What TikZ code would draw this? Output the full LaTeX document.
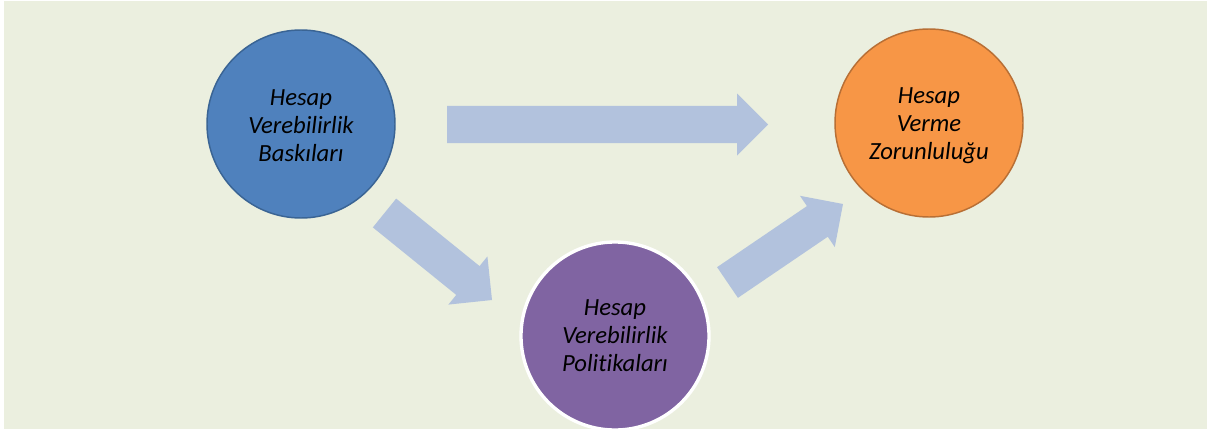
\documentclass[tikz,border=0pt]{standalone}
\usepackage{fontspec}
\setmainfont{Carlito}[Ligatures=NoCommon]
\usetikzlibrary{calc}
\definecolor{bgcol}{HTML}{EBEFDF}
\definecolor{arrowblue}{HTML}{B2C2DD}
\definecolor{nodeblue}{HTML}{4F81BD}
\definecolor{blueedge}{HTML}{3A6494}
\definecolor{nodeorange}{HTML}{F79646}
\definecolor{orangeedge}{HTML}{B86F35}
\definecolor{nodepurple}{HTML}{8064A2}
\tikzset{
  bubble/.style={circle, minimum size=141pt, inner sep=0pt, line width=1.1pt},
  bubbletext/.style={align=center, inner sep=0pt, text=black,
    font=\itshape\fontsize{18.5}{21}\selectfont},
  arrowfill/.style={fill=arrowblue}
}
\newcommand\blockarrow[3]{%
  \coordinate (#3) at ($(#2)!23.25pt!(#1)$);
  \fill[arrowfill] ($(#1)!13.9pt!90:(#2)$) -- ($(#3)!13.9pt!90:(#2)$)
    -- ($(#3)!23.25pt!90:(#2)$) -- (#2) -- ($(#3)!23.25pt!-90:(#2)$)
    -- ($(#3)!13.9pt!-90:(#2)$) -- ($(#1)!13.9pt!-90:(#2)$) -- cycle;}
\begin{document}
\begin{tikzpicture}[x=0.75pt, y=-0.75pt]
\useasboundingbox (0,0) rectangle (1207,432);
\fill[white] (0,0) rectangle (1207,432);
\fill[bgcol] (4,1) rectangle (1207,429);
% arrow end points
\coordinate (a1s) at (447,124.5);
\coordinate (a1e) at (768,124.5);
\coordinate (a2s) at (384.5,213);
\coordinate (a2e) at (492,300);
\coordinate (a3s) at (727.5,282.5);
\coordinate (a3e) at (843,204);
\blockarrow{a1s}{a1e}{a1h}
\blockarrow{a2s}{a2e}{a2h}
\blockarrow{a3s}{a3e}{a3h}
% nodes
\node[bubble, fill=nodeblue, draw=blueedge] (press) at (301,124) {};
\node[bubbletext] (presstext) at (301,126) {Hesap\\Verebilirlik\\Baskıları};
\node[bubble, fill=nodeorange, draw=orangeedge] (oblig) at (929,123) {};
\node[bubbletext] (obligtext) at (929,126) {Hesap\\Verme\\Zorunluluğu};
\node[bubble, fill=nodepurple, draw=white, line width=2.5pt] (policy) at (615,336) {};
\node[bubbletext] (policytext) at (615,336) {Hesap\\Verebilirlik\\Politikaları};
\end{tikzpicture}
\end{document}
